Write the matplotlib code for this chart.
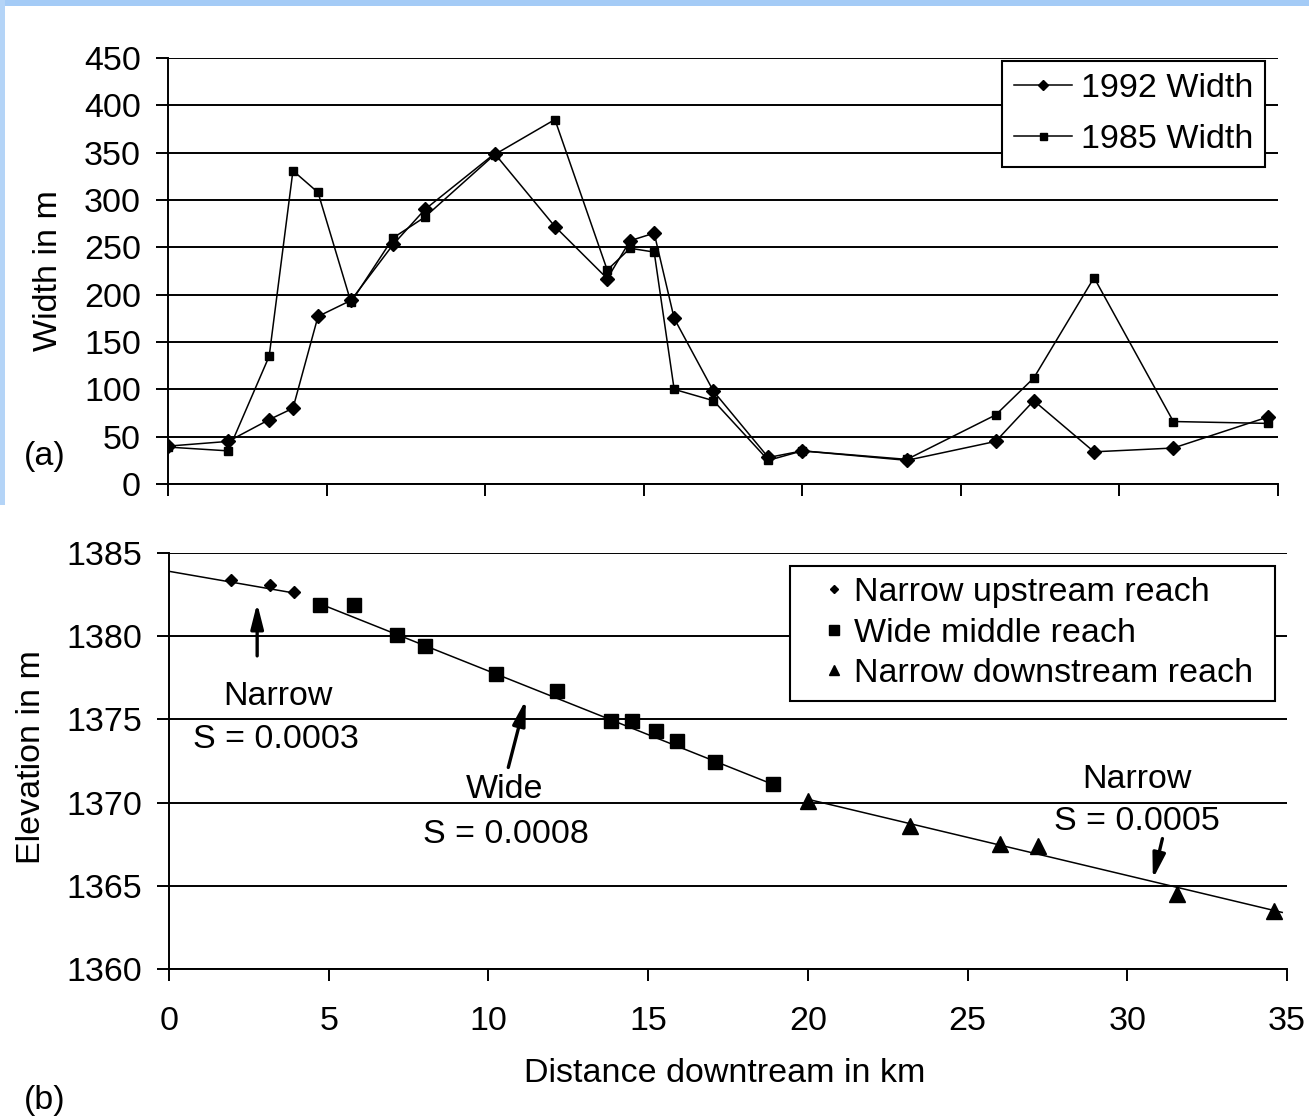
import matplotlib
matplotlib.use("Agg")
import matplotlib.pyplot as plt
from matplotlib.patches import Rectangle

plt.rcParams['font.family'] = ['Liberation Sans', 'DejaVu Sans']

# ---------------- data: panel (a) ----------------
dist_a = [0.0, 1.9, 3.19, 3.94, 4.73, 5.77, 7.1, 8.1, 10.3, 12.2, 13.85, 14.57,
          15.33, 15.96, 17.2, 18.93, 20.0, 23.3, 26.1, 27.3, 29.2, 31.7, 34.7]
width_1992 = [40, 45, 68, 80, 177, 194, 253, 290, 349, 272, 217, 257,
              265, 175, 98, 28, 35, 25, 45, 88, 34, 38, 71]
width_1985 = [39, 35, 135, 331, 308, 192, 260, 282, 348, 385, 226, 249,
              245, 100, 88, 25, 35, 26, 73, 112, 218, 66, 64]

# ---------------- data: panel (b) ----------------
up_x = [1.94, 3.16, 3.9]
up_y = [1383.4, 1383.1, 1382.65]
mid_x = [4.72, 5.78, 7.13, 8.0, 10.25, 12.16, 13.84, 14.5, 15.25, 15.9, 17.1, 18.9]
mid_y = [1381.9, 1381.9, 1380.05, 1379.4, 1377.7, 1376.7, 1374.9, 1374.9,
         1374.3, 1373.7, 1372.45, 1371.1]
down_x = [20.0, 23.2, 26.0, 27.2, 31.56, 34.6]
down_y = [1370.1, 1368.6, 1367.5, 1367.4, 1364.5, 1363.5]

# fitted reach lines (end points)
fit_up_x, fit_up_y = [0.0, 3.9], [1383.9, 1382.6]
fit_mid_x, fit_mid_y = [4.72, 18.9], [1381.95, 1371.1]
fit_down_x, fit_down_y = [20.0, 34.85], [1370.2, 1363.4]

xticks = [0, 5, 10, 15, 20, 25, 30, 35]
yticks_a = [0, 50, 100, 150, 200, 250, 300, 350, 400, 450]
yticks_b = [1360, 1365, 1370, 1375, 1380, 1385]

FS = 24.5
W, H = 1309, 1119
fig = plt.figure(figsize=(W / 100, H / 100), dpi=100)
fig.patch.set_facecolor('white')

# light blue frame around panel (a)
fig.add_artist(Rectangle((0, 1 - 6 / H), 1, 6 / H, transform=fig.transFigure,
                         facecolor='#a4cbf6', edgecolor='none'))
fig.add_artist(Rectangle((0, 1 - 505 / H), 5 / W, 505 / H, transform=fig.transFigure,
                         facecolor='#b4d4f7', edgecolor='none'))

def px_axes(l, r, t, b):
    return fig.add_axes([l / W, 1 - b / H, (r - l) / W, (b - t) / H])

def style(ax):
    for s in ['top', 'right']:
        ax.spines[s].set_visible(False)
    for s in ['left', 'bottom']:
        ax.spines[s].set_linewidth(1.4)
        ax.spines[s].set_color('black')
    ax.tick_params(direction='out', length=8.6, width=1.4, colors='black',
                   labelsize=FS)
    ax.yaxis.grid(True, color='black', linewidth=1.4)
    ax.set_axisbelow(True)

# ---------------- panel (a) ----------------
axa = px_axes(168, 1278, 58, 484)
style(axa)
axa.plot(dist_a, width_1992, color='black', lw=1.1, marker='D', ms=7,
         label='1992 Width')
axa.plot(dist_a, width_1985, color='black', lw=1.1, marker='s', ms=6.3,
         label='1985 Width')
axa.set_xlim(0, 35)
axa.set_ylim(0, 450)
axa.set_xticks(xticks)
axa.set_yticks(yticks_a)
axa.tick_params(axis='x', labelbottom=False)
axa.tick_params(axis='y', pad=11)
axa.set_ylabel('Width in m', fontsize=FS, ha='center', va='center')
axa.yaxis.set_label_coords(-0.108, (484 - 271) / 426)
leg_a = axa.legend(loc='upper right', bbox_to_anchor=((1265 - 168) / 1110, (484 - 61) / 426),
                   borderaxespad=0, fontsize=FS, frameon=True, fancybox=False,
                   edgecolor='black', framealpha=1, borderpad=0.35,
                   handlelength=1.7, handletextpad=0.25, labelspacing=0.6,
                   markerscale=0.8)
leg_a.get_frame().set_linewidth(1.5)

# ---------------- panel (b) ----------------
axb = px_axes(169, 1287, 553, 969)
style(axb)
axb.plot(fit_up_x, fit_up_y, color='black', lw=1.1)
axb.plot(fit_mid_x, fit_mid_y, color='black', lw=1.1)
axb.plot(fit_down_x, fit_down_y, color='black', lw=1.1)
axb.plot(up_x, up_y, ls='none', marker='D', ms=6, color='black',
         label='Narrow upstream reach')
axb.plot(mid_x, mid_y, ls='none', marker='s', ms=10.3, color='black',
         label='Wide middle reach')
axb.plot(down_x, down_y, ls='none', marker='^', ms=11, color='black',
         label='Narrow downstream reach')
axb.set_xlim(0, 35)
axb.set_ylim(1360, 1385)
axb.set_xticks(xticks)
axb.set_yticks(yticks_b)
axb.tick_params(axis='x', pad=18)
axb.tick_params(axis='y', pad=11)
axb.set_ylabel('Elevation in m', fontsize=FS, ha='center', va='center')
axb.yaxis.set_label_coords((32 - 169) / 1118, (969 - 757) / 416)
axb.set_xlabel('Distance downtream in km', fontsize=FS, ha='center', va='center')
axb.xaxis.set_label_coords((725 - 169) / 1118, (969 - 1074) / 416)

lx0 = (790 - 169) / 1118
lw_ = (1275 - 790) / 1118
ltop = (969 - 566) / 416
leg_b = axb.legend(loc='upper left', bbox_to_anchor=(lx0, ltop - 0.2, lw_, 0.2),
                   mode='expand', borderaxespad=0, fontsize=FS, frameon=True,
                   fancybox=False, edgecolor='black', framealpha=1, borderpad=0.33,
                   handlelength=1.9, handletextpad=-0.35, labelspacing=0.28,
                   markerscale=0.65)
leg_b.get_frame().set_linewidth(1.5)

arrow = dict(arrowstyle='-|>,head_length=1.5,head_width=0.38', color='black', lw=2.4)
axb.annotate('', xy=(2.76, 1382.15), xytext=(2.76, 1378.65), arrowprops=arrow)
axb.text(3.42, 1376.4, 'Narrow', fontsize=FS, ha='center', va='center')
axb.text(3.35, 1373.8, 'S = 0.0003', fontsize=FS, ha='center', va='center')

axb.annotate('', xy=(11.19, 1376.33), xytext=(10.6, 1371.95), arrowprops=arrow)
axb.text(10.5, 1370.8, 'Wide', fontsize=FS, ha='center', va='center')
axb.text(10.56, 1368.1, 'S = 0.0008', fontsize=FS, ha='center', va='center')

axb.annotate('', xy=(30.78, 1365.25), xytext=(31.12, 1368.0), arrowprops=arrow)
axb.text(30.31, 1371.4, 'Narrow', fontsize=FS, ha='center', va='center')
axb.text(30.31, 1368.85, 'S = 0.0005', fontsize=FS, ha='center', va='center')

fig.text(45 / W, 1 - 456 / H, '(a)', fontsize=FS, ha='center', va='center')
fig.text(45 / W, 1 - 1100 / H, '(b)', fontsize=FS, ha='center', va='center')

fig.savefig('out.png', dpi=100, facecolor='white')
